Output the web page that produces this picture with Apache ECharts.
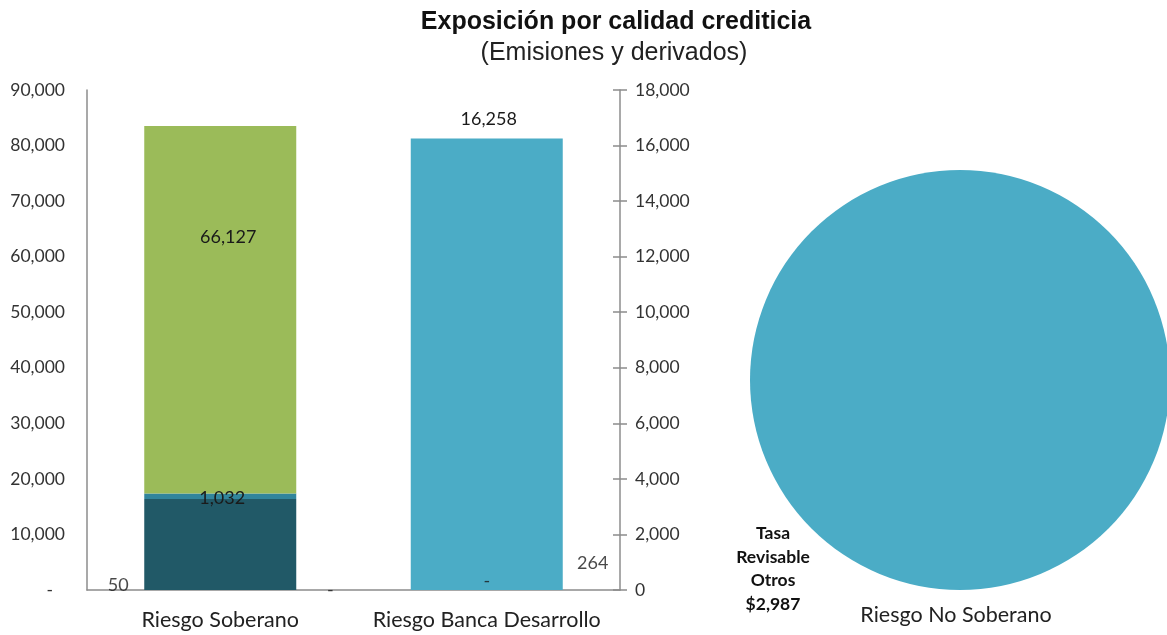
<!DOCTYPE html>
<html><head><meta charset="utf-8">
<script src="https://cdn.jsdelivr.net/npm/echarts@6/dist/echarts.min.js"></script>
<style>html,body{margin:0;padding:0;background:#fff}#c{width:1167px;height:635px}</style>
</head><body><div id="c"></div>
<script>
const titleText = 'Exposición por calidad crediticia';
const subtitleText = '(Emisiones y derivados)';
const categories = ['Riesgo Soberano', 'Riesgo Banca Desarrollo'];
const soberanoBase = [16360, null];
const soberanoMid = [1032, null];
const soberanoTop = [66127, null];
const bancaValues = [null, 16258];
const leftSmall = [50, null];
const soberanoRight = [0, null];
const bancaRight = [null, 264];
const bancaZero = [null, 0];
const leftTicks = [0, 10000, 20000, 30000, 40000, 50000, 60000, 70000, 80000, 90000];
const rightTicks = [0, 2000, 4000, 6000, 8000, 10000, 12000, 14000, 16000, 18000];
const pieName = 'Tasa Revisable Otros';
const pieValue = 2987;
const pieCategory = 'Riesgo No Soberano';

const F = 'Lato, "Open Sans", sans-serif';
const H = '"Liberation Sans", Arial, sans-serif';
const fmt = v => v === 0 ? '-' : Number(v).toLocaleString('en-US');
const lblBase = {show: true, color: '#1a1a1a', fontSize: 18, fontFamily: F, formatter: p => fmt(p.value)};

const chart = echarts.init(document.getElementById('c'));
chart.setOption({
  animation: false,
  title: [
    {text: titleText, left: 611, textAlign: 'center', top: 5, textStyle: {fontFamily: H, fontWeight: 'bold', fontSize: 25, color: '#111'}},
    {text: subtitleText, left: 609, textAlign: 'center', top: 36, textStyle: {fontFamily: H, fontWeight: 'normal', fontSize: 25, color: '#222'}},
    {text: pieName.split(' ').join('\n') + '\n$' + pieValue.toLocaleString('en-US'), left: 768, textAlign: 'center', top: 517, textStyle: {fontFamily: F, fontWeight: 'bold', fontSize: 17.5, lineHeight: 23.5, color: '#111'}},
    {text: pieCategory, left: 951, textAlign: 'center', top: 599, textStyle: {fontFamily: F, fontWeight: 'normal', fontSize: 21.5, color: '#222'}}
  ],
  grid: {left: 87, right: 547, top: 90, bottom: 45},
  xAxis: {type: 'category', data: categories,
    axisLine: {lineStyle: {color: '#8c8c8c', width: 1.5}}, axisTick: {show: false},
    axisLabel: {interval: 0, hideOverlap: false, fontFamily: F, fontSize: 21.5, color: '#222', margin: 19}},
  yAxis: [
    {type: 'value', min: leftTicks[0], max: leftTicks[leftTicks.length-1], interval: leftTicks[1]-leftTicks[0], position: 'left',
      splitLine: {show: false}, axisTick: {show: false},
      axisLine: {show: true, lineStyle: {color: '#8c8c8c', width: 1.5}},
      axisLabel: {fontFamily: F, fontSize: 17.5, color: '#333', margin: 22,
        formatter: v => v === 0 ? '{z|-}' : Number(v).toLocaleString('en-US'),
        rich: {z: {fontFamily: F, fontSize: 17.5, color: '#333', padding: [0, 12, 0, 0]}}}},
    {type: 'value', min: rightTicks[0], max: rightTicks[rightTicks.length-1], interval: rightTicks[1]-rightTicks[0], position: 'right',
      splitLine: {show: false},
      axisTick: {show: true, length: 7, lineStyle: {color: '#8c8c8c', width: 1.5}},
      axisLine: {show: true, lineStyle: {color: '#8c8c8c', width: 1.5}},
      axisLabel: {fontFamily: F, fontSize: 17.5, color: '#333', margin: 15, formatter: v => Number(v).toLocaleString('en-US')}},
    {type: 'value', min: rightTicks[0], max: rightTicks[rightTicks.length-1], interval: rightTicks[1]-rightTicks[0], position: 'right',
      splitLine: {show: false}, axisLine: {show: false}, axisLabel: {show: false},
      axisTick: {show: true, inside: true, length: 7, lineStyle: {color: '#8c8c8c', width: 1.5}}}
  ],
  series: [
    {type: 'bar', name: 'base', stack: 'sob', yAxisIndex: 0, data: soberanoBase, barWidth: 152, barGap: '-100%', itemStyle: {color: '#215967'}},
    {type: 'bar', name: 'mid', stack: 'sob', yAxisIndex: 0, data: soberanoMid, barWidth: 152, itemStyle: {color: '#31859c'},
      label: Object.assign({}, lblBase, {position: 'inside', offset: [2, 2]})},
    {type: 'bar', name: 'top', stack: 'sob', yAxisIndex: 0, data: soberanoTop, barWidth: 152, itemStyle: {color: '#9bbb59'},
      label: Object.assign({}, lblBase, {position: 'insideTop', distance: 102, offset: [8, 0]})},
    {type: 'bar', name: 'banca', yAxisIndex: 1, data: bancaValues, barWidth: 152, barGap: '-100%', itemStyle: {color: '#4bacc6'},
      label: Object.assign({}, lblBase, {position: 'top', distance: 10, offset: [2, 0]})},
    {type: 'scatter', yAxisIndex: 0, data: leftSmall, symbolSize: 0.1, label: Object.assign({}, lblBase, {position: 'top', distance: -5, offset: [-102, 0]})},
    {type: 'scatter', yAxisIndex: 0, data: soberanoRight, symbolSize: 0.1, label: Object.assign({}, lblBase, {position: 'inside', offset: [110, 0]})},
    {type: 'scatter', yAxisIndex: 1, data: bancaRight, symbolSize: 0.1, label: Object.assign({}, lblBase, {position: 'top', distance: 10, offset: [106, 0]})},
    {type: 'scatter', yAxisIndex: 1, data: bancaZero, symbolSize: 0.1, label: Object.assign({}, lblBase, {position: 'top', distance: 0})},
    {type: 'pie', center: [960, 380], radius: [0, 210], data: [{name: pieName, value: pieValue}],
      itemStyle: {color: '#4bacc6'}, label: {show: false}, labelLine: {show: false}, silent: true}
  ]
});
</script></body></html>
